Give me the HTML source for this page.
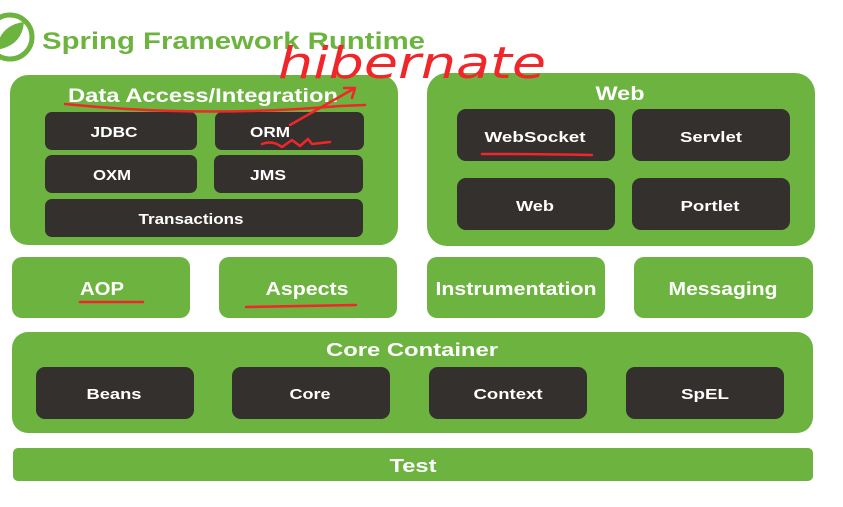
<!DOCTYPE html>
<html><head><meta charset="utf-8"><style>
html,body{margin:0;padding:0;background:#fff;width:843px;height:507px;overflow:hidden}
svg{display:block}
text{font-family:"Liberation Sans",sans-serif;font-weight:bold}
.g{fill:#6cb33f}
.d{fill:#33302e}
.w{fill:#fff;text-anchor:middle}
.r{fill:none;stroke:#f0262a;stroke-width:2.5;stroke-linecap:round;stroke-linejoin:round}
</style></head><body>
<svg width="843" height="507" viewBox="0 0 843 507">
<circle cx="10" cy="37" r="22" fill="none" stroke="#6cb33f" stroke-width="5"/>
<path d="M-4 50 Q0 25 24 22 Q22 46 -4 50Z" fill="#6cb33f"/>
<text x="42" y="49" font-size="24" fill="#6cb33f" textLength="383" lengthAdjust="spacingAndGlyphs">Spring Framework Runtime</text>

<rect class="g" x="10" y="75" width="388" height="170" rx="18"/>
<text class="w" x="203" y="102" font-size="19" textLength="270" lengthAdjust="spacingAndGlyphs">Data Access/Integration</text>
<rect class="d" x="45" y="112" width="152" height="38" rx="7"/><text class="w" x="114" y="137" font-size="15" textLength="47" lengthAdjust="spacingAndGlyphs">JDBC</text>
<rect class="d" x="215" y="112" width="149" height="38" rx="7"/><text class="w" x="270" y="137" font-size="15" textLength="40" lengthAdjust="spacingAndGlyphs">ORM</text>
<rect class="d" x="45" y="155" width="152" height="38" rx="7"/><text class="w" x="112" y="180" font-size="15" textLength="38" lengthAdjust="spacingAndGlyphs">OXM</text>
<rect class="d" x="214" y="155" width="149" height="38" rx="7"/><text class="w" x="268" y="180" font-size="15" textLength="36" lengthAdjust="spacingAndGlyphs">JMS</text>
<rect class="d" x="45" y="199" width="318" height="38" rx="7"/><text class="w" x="191" y="224" font-size="15" textLength="105" lengthAdjust="spacingAndGlyphs">Transactions</text>

<rect class="g" x="427" y="73" width="388" height="173" rx="20"/>
<text class="w" x="620" y="100" font-size="19" textLength="49" lengthAdjust="spacingAndGlyphs">Web</text>
<rect class="d" x="457" y="109" width="158" height="52" rx="9"/><text class="w" x="535" y="142" font-size="15" textLength="101" lengthAdjust="spacingAndGlyphs">WebSocket</text>
<rect class="d" x="632" y="109" width="158" height="52" rx="9"/><text class="w" x="711" y="142" font-size="15" textLength="62" lengthAdjust="spacingAndGlyphs">Servlet</text>
<rect class="d" x="457" y="178" width="158" height="52" rx="9"/><text class="w" x="535" y="211" font-size="15" textLength="38" lengthAdjust="spacingAndGlyphs">Web</text>
<rect class="d" x="632" y="178" width="158" height="52" rx="9"/><text class="w" x="710" y="211" font-size="15" textLength="59" lengthAdjust="spacingAndGlyphs">Portlet</text>

<rect class="g" x="12" y="257" width="178" height="61" rx="10"/><text class="w" x="102" y="295" font-size="18" textLength="44" lengthAdjust="spacingAndGlyphs">AOP</text>
<rect class="g" x="219" y="257" width="178" height="61" rx="10"/><text class="w" x="307" y="295" font-size="18" textLength="83" lengthAdjust="spacingAndGlyphs">Aspects</text>
<rect class="g" x="427" y="257" width="178" height="61" rx="10"/><text class="w" x="516" y="295" font-size="18" textLength="161" lengthAdjust="spacingAndGlyphs">Instrumentation</text>
<rect class="g" x="634" y="257" width="179" height="61" rx="10"/><text class="w" x="723" y="295" font-size="18" textLength="109" lengthAdjust="spacingAndGlyphs">Messaging</text>

<rect class="g" x="12" y="332" width="801" height="101" rx="16"/>
<text class="w" x="412" y="356" font-size="18" textLength="172" lengthAdjust="spacingAndGlyphs">Core Container</text>
<rect class="d" x="36" y="367" width="158" height="52" rx="9"/><text class="w" x="114" y="399" font-size="15" textLength="55" lengthAdjust="spacingAndGlyphs">Beans</text>
<rect class="d" x="232" y="367" width="158" height="52" rx="9"/><text class="w" x="310" y="399" font-size="15" textLength="41" lengthAdjust="spacingAndGlyphs">Core</text>
<rect class="d" x="429" y="367" width="158" height="52" rx="9"/><text class="w" x="508" y="399" font-size="15" textLength="69" lengthAdjust="spacingAndGlyphs">Context</text>
<rect class="d" x="626" y="367" width="158" height="52" rx="9"/><text class="w" x="705" y="399" font-size="15" textLength="48" lengthAdjust="spacingAndGlyphs">SpEL</text>

<rect class="g" x="13" y="448" width="800" height="33" rx="5"/>
<text class="w" x="413" y="472" font-size="18" textLength="47" lengthAdjust="spacingAndGlyphs">Test</text>

<!-- red annotations -->
<text x="278" y="78" font-size="44" fill="#f0262a" style="font-family:'DejaVu Sans',sans-serif;font-weight:normal;font-style:italic" textLength="268" lengthAdjust="spacingAndGlyphs">hibernate</text>
<path class="r" d="M65 104 Q200 118 340 106 L365 105"/>
<path class="r" d="M290 125 L355 88 M344 88 L355 88 L352 98"/>
<path class="r" d="M262 144 Q272 140 282 147 L292 140 L300 146 L308 139 L312 144 L330 142"/>
<path class="r" d="M482 154 Q540 154 592 155"/>
<path class="r" d="M80 302 L143 302"/>
<path class="r" d="M246 307 L356 305"/>
</svg>
</body></html>
